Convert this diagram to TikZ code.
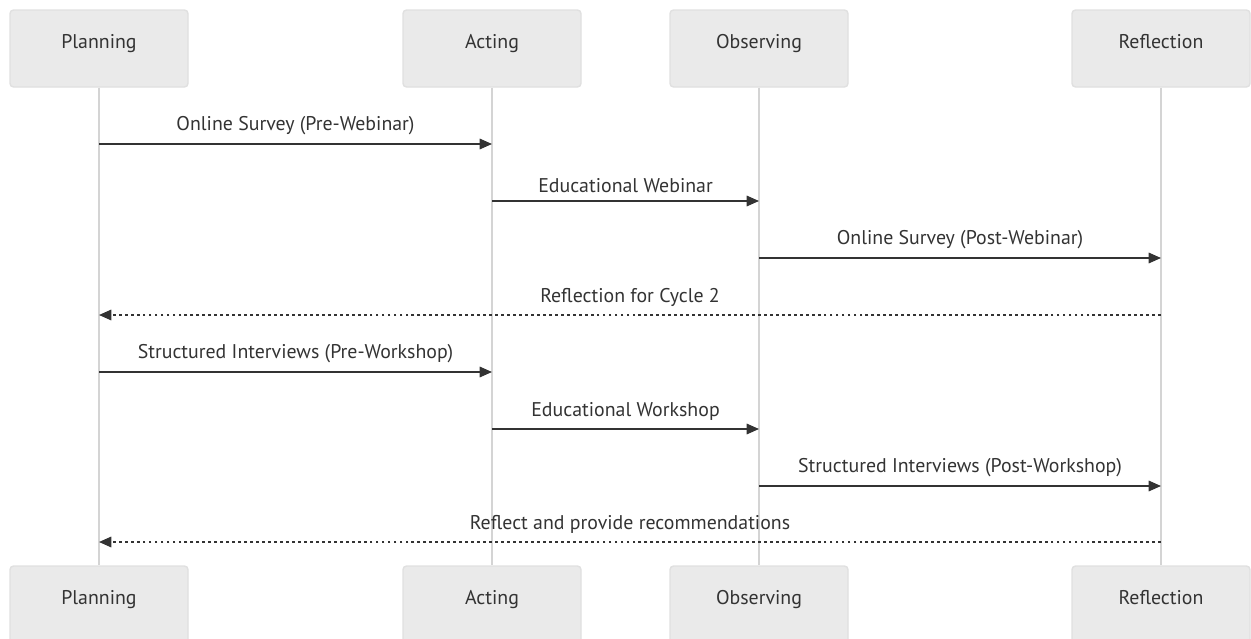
\documentclass[tikz,border=0pt]{standalone}
\usepackage{fontspec}
\setmainfont{PT Sans}
\usetikzlibrary{arrows.meta, positioning}

\definecolor{actfill}{HTML}{EAEAEA}
\definecolor{actdraw}{HTML}{E0E0E0}
\definecolor{lifegray}{HTML}{D4D4D4}
\definecolor{msgcol}{HTML}{333333}

\begin{document}
\begin{tikzpicture}[
  x=0.02cm, y=-0.02cm,
  actor/.style={rectangle, draw=actdraw, fill=actfill, line width=0.8pt,
                rounded corners=2pt, minimum width=178*0.02cm,
                minimum height=77*0.02cm, text height=8pt, text depth=8pt,
                font=\fontsize{11.3}{13}\selectfont, text=msgcol},
  lifeline/.style={draw=lifegray, line width=1.2pt},
  msg/.style={-{Triangle[length=7pt, width=6pt]}, draw=msgcol, line width=0.85pt},
  reply/.style={msg, dash pattern=on 1.6pt off 1.8pt},
  mlbl/.style={font=\fontsize{11.3}{13}\selectfont, text=msgcol, inner sep=0pt}
]
\useasboundingbox (0,0) rectangle (1251,639);

% Top row of participants
\node[actor] (plan)  at (99, 48.5)  {Planning};
\node[actor] (act)   at (492, 48.5) {Acting};
\node[actor] (obs)   at (759, 48.5) {Observing};
\node[actor] (refl)  at (1161, 48.5) {Reflection};

% Bottom row of participants
\node[actor] (planB) at (99, 604.5)  {Planning};
\node[actor] (actB)  at (492, 604.5) {Acting};
\node[actor] (obsB)  at (759, 604.5) {Observing};
\node[actor] (reflB) at (1161, 604.5) {Reflection};

% Lifelines (drawn behind the messages)
\draw[lifeline] (plan) -- (planB);
\draw[lifeline] (act)  -- (actB);
\draw[lifeline] (obs)  -- (obsB);
\draw[lifeline] (refl) -- (reflB);

% Message anchors on the lifelines
\coordinate (p1) at (99, 144);  \coordinate (a1) at (492, 144);
\coordinate (a2) at (492, 201); \coordinate (o2) at (759, 201);
\coordinate (o3) at (759, 258); \coordinate (r3) at (1161, 258);
\coordinate (r4) at (1161, 315); \coordinate (p4) at (99, 315);
\coordinate (p5) at (99, 372);  \coordinate (a5) at (492, 372);
\coordinate (a6) at (492, 429); \coordinate (o6) at (759, 429);
\coordinate (o7) at (759, 486); \coordinate (r7) at (1161, 486);
\coordinate (r8) at (1161, 542); \coordinate (p8) at (99, 542);

% --- Cycle 1 ---
\draw[msg] (p1) -- node[mlbl, above=4.5pt] {Online Survey (Pre-Webinar)} (a1);
\draw[msg] (a2) -- node[mlbl, above=4.5pt] {Educational Webinar} (o2);
\draw[msg] (o3) -- node[mlbl, above=4.5pt] {Online Survey (Post-Webinar)} (r3);
\draw[reply] (r4) -- node[mlbl, above=4.5pt] {Reflection for Cycle 2} (p4);

% --- Cycle 2 ---
\draw[msg] (p5) -- node[mlbl, above=4.5pt] {Structured Interviews (Pre-Workshop)} (a5);
\draw[msg] (a6) -- node[mlbl, above=4.5pt] {Educational Workshop} (o6);
\draw[msg] (o7) -- node[mlbl, above=4.5pt] {Structured Interviews (Post-Workshop)} (r7);
\draw[reply] (r8) -- node[mlbl, above=4.5pt] {Reflect and provide recommendations} (p8);

\end{tikzpicture}
\end{document}
